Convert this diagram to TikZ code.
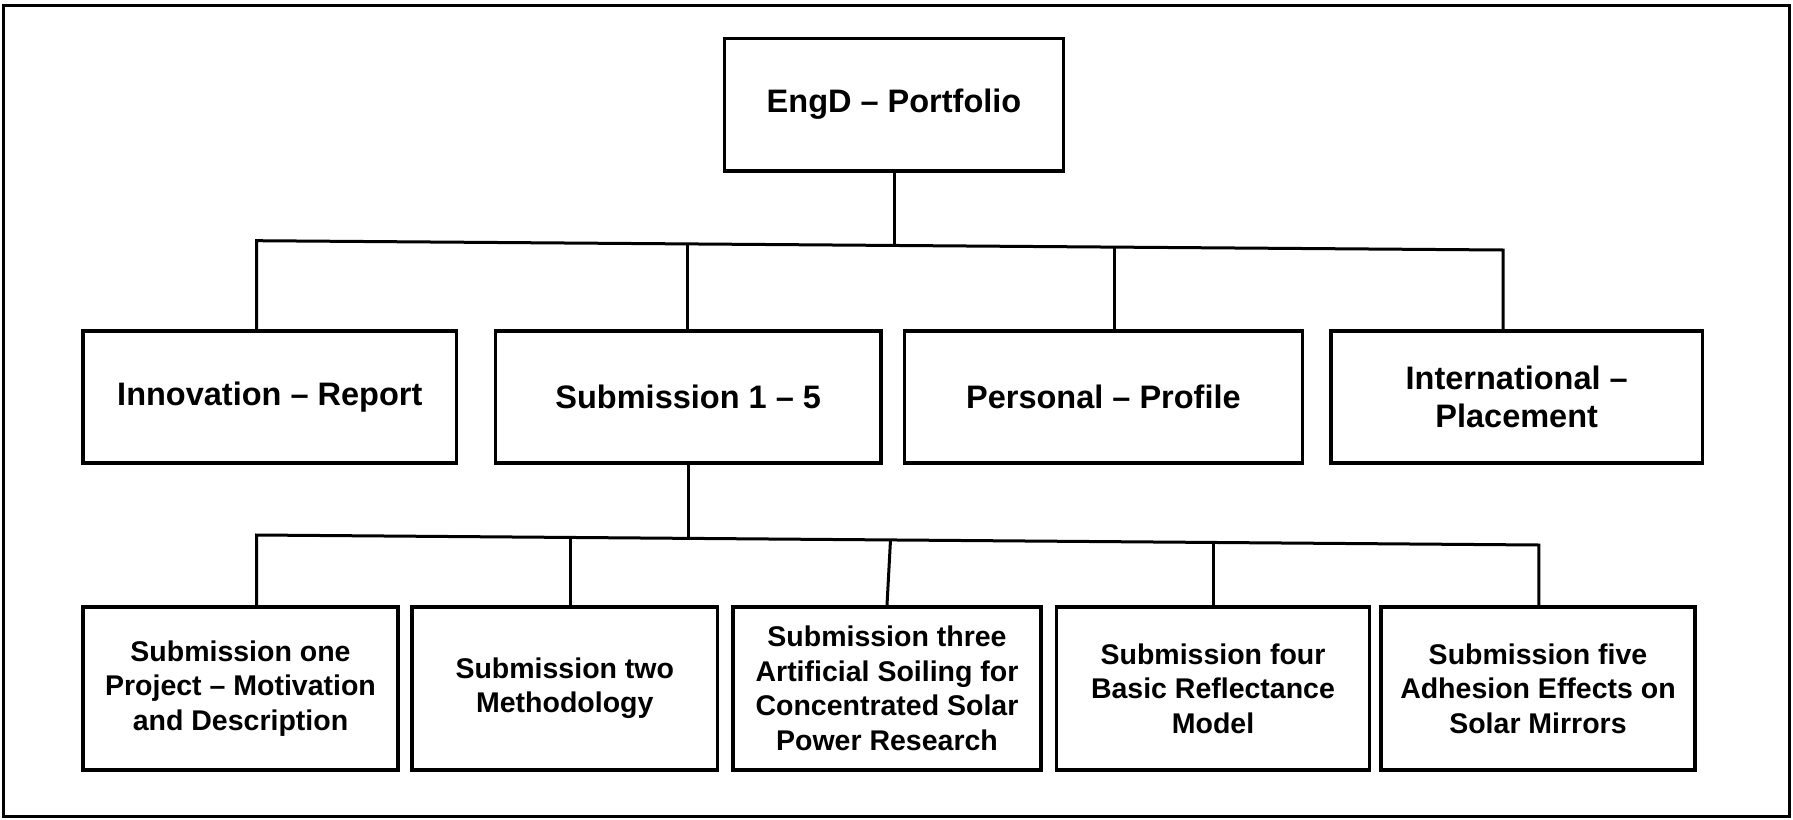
\documentclass[tikz,border=0pt]{standalone}
\usepackage{fontspec}
\setmainfont{Liberation Sans}
\begin{document}
\begin{tikzpicture}[x=1pt,y=-1pt,
  box/.style={draw, line width=3.6pt, align=center, inner sep=0pt,
    font=\bfseries\fontsize{32.5}{38}\selectfont},
  sbox/.style={box, minimum height=163.3pt, font=\bfseries\fontsize{28.5}{34.5}\selectfont},
  mbox/.style={box, minimum height=132pt},
  conn/.style={line width=3pt, line join=miter}]
\useasboundingbox (0,0) rectangle (1793,819);
\draw[line width=2.5pt] (3.4,5.7) rectangle (1789.5,816.5);

% top
\node[box, minimum width=339pt, minimum height=132.4pt] (top) at (894,104.5) {EngD -- Portfolio};

% level 2
\node[mbox, minimum width=373.2pt] (inno) at (269.8,397) {Innovation -- Report};
\node[mbox, minimum width=385.6pt] (sub)  at (688.2,397) {Submission 1 -- 5};
\node[mbox, minimum width=397.8pt] (pers) at (1103.4,397) {Personal -- Profile};
\node[mbox, minimum width=371.4pt] (intl) at (1516.7,397) {International --\\Placement};

% level 3
\node[sbox, minimum width=314.6pt] (s1) at (240.5,688.35) {Submission one\\Project -- Motivation\\and Description};
\node[sbox, minimum width=305.6pt] (s2) at (564.8,688.35) {Submission two\\Methodology};
\node[sbox, minimum width=308pt]   (s3) at (887,688.35) {Submission three\\Artificial Soiling for\\Concentrated Solar\\Power Research};
\node[sbox, minimum width=312.9pt] (s4) at (1213,688.35) {Submission four\\Basic Reflectance\\Model};
\node[sbox, minimum width=314pt]   (s5) at (1538,688.35) {Submission five\\Adhesion Effects on\\Solar Mirrors};

% bus 1
\coordinate (aL) at (256.6,240.7);
\coordinate (aR) at (1503,250);
\coordinate (aT) at (894,245.6);
\coordinate (aS) at (687,244.1);
\coordinate (aP) at (1114,247.2);
\draw[conn] (top.south) -- (aT);
\draw[conn] (aL |- inno.north) -- (aL) -- (aR) -- (aR |- intl.north);
\draw[conn] (aS) -- (aS |- sub.north);
\draw[conn] (aP) -- (aP |- pers.north);

% bus 2
\coordinate (bL) at (256.6,535);
\coordinate (bR) at (1538.8,545);
\coordinate (bS) at (688.2,538.4);
\coordinate (b2) at (570,537.4);
\coordinate (b3) at (890.5,539.9);
\coordinate (b4) at (1213,542.5);
\draw[conn] (sub.south) -- (bS);
\draw[conn] (bL |- s1.north) -- (bL) -- (bR) -- (bR |- s5.north);
\draw[conn] (b2) -- (b2 |- s2.north);
\draw[conn] (b3) -- (s3.north);
\draw[conn] (b4) -- (b4 |- s4.north);
\end{tikzpicture}
\end{document}
